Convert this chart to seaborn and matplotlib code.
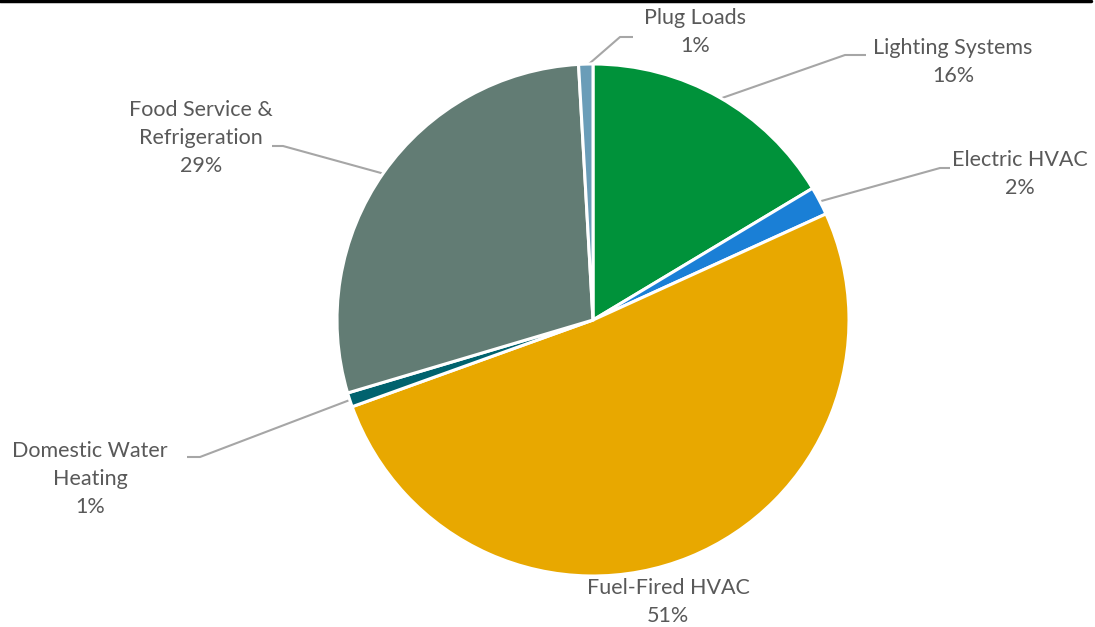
import numpy as np
import matplotlib
matplotlib.use("Agg")
import matplotlib.pyplot as plt
import seaborn as sns

# Energy use breakdown (share of total, %)
categories = ['Lighting Systems', 'Electric HVAC', 'Fuel-Fired HVAC',
              'Domestic Water Heating', 'Food Service & Refrigeration', 'Plug Loads']
shares = [16.4, 1.8, 51.3, 0.9, 28.7, 0.9]
label_text = ['Lighting Systems', 'Electric HVAC', 'Fuel-Fired HVAC',
              'Domestic Water\nHeating', 'Food Service &\nRefrigeration', 'Plug Loads']
colors = ['#00923A', '#1A7FD6', '#E8A800', '#00626E', '#627C74', '#6A9DB8']

sns.set_style('white')
plt.rcParams['font.family'] = ['Lato', 'DejaVu Sans']

W, H = 1095, 627
cx, cy, R = 593, 320, 256

def to_data(x, y):
    # pixel coords of the reference -> data coords (pie radius = 1)
    return (x - cx) / R, (cy - y) / R

fig = plt.figure(figsize=(W / 100, H / 100), dpi=100)
ax = fig.add_axes([0, 0, 1, 1])

wedges, _ = ax.pie(shares, colors=colors, startangle=90, counterclock=False,
                   radius=1, wedgeprops=dict(edgecolor='white', linewidth=2.2))
ax.set_xlim((0 - cx) / R, (W - cx) / R)
ax.set_ylim((cy - H) / R, cy / R)
ax.set_aspect('equal')
ax.axis('off')

# label text anchor (centre of block) and leader elbow/end, in reference pixels
layout = {
    'Lighting Systems': dict(text=(953, 62), elbow=(845, 55), end=(866, 55)),
    'Electric HVAC': dict(text=(1020, 174), elbow=(940, 168), end=(950, 168)),
    'Fuel-Fired HVAC': dict(text=(668, 602), elbow=None, end=None),
    'Domestic Water Heating': dict(text=(90, 479), elbow=(200, 457), end=(187, 457)),
    'Food Service & Refrigeration': dict(text=(201, 138), elbow=(283, 146), end=(272, 146)),
    'Plug Loads': dict(text=(695, 32), elbow=(620, 37), end=(633, 37)),
}

for w, cat, lab, val in zip(wedges, categories, label_text, shares):
    spec = layout[cat]
    tx, ty = to_data(*spec['text'])
    ax.text(tx, ty, f'{lab}\n{round(val):.0f}%', ha='center', va='center',
            fontsize=15.5, color='#595959', linespacing=1.5)
    if spec['elbow'] is not None:
        mid = np.deg2rad((w.theta1 + w.theta2) / 2)
        sx, sy = 0.99 * np.cos(mid), 0.99 * np.sin(mid)
        ex, ey = to_data(*spec['elbow'])
        fx, fy = to_data(*spec['end'])
        ax.plot([sx, ex, fx], [sy, ey, fy], color='#A6A6A6', lw=1.5,
                solid_capstyle='butt', zorder=0)

# thin black rule along the top edge
fig.add_artist(plt.Line2D([0, 0.996], [0.998, 0.998], color='black', lw=2.5,
                          transform=fig.transFigure))

fig.savefig('out.png', dpi=100)
